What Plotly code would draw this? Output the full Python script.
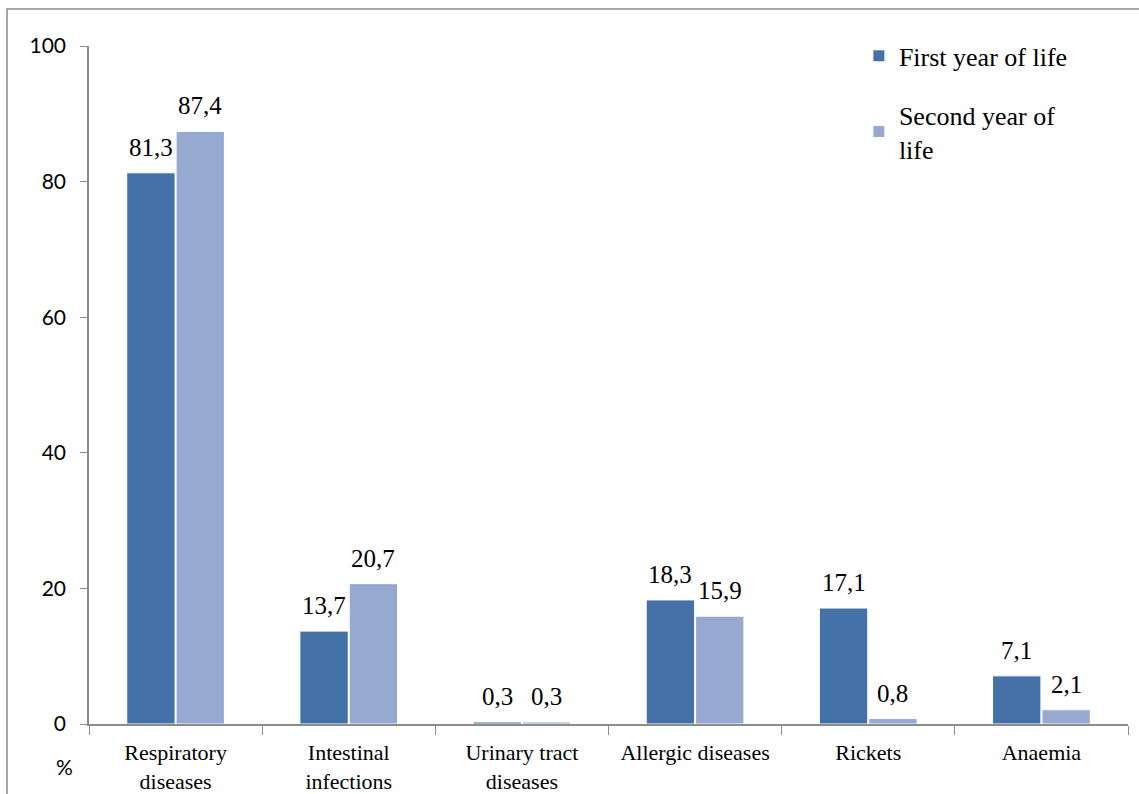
import plotly.graph_objects as go

categories = ["Respiratory<br>diseases", "Intestinal<br>infections", "Urinary tract<br>diseases",
              "Allergic diseases", "Rickets", "Anaemia"]
first_year = [81.3, 13.7, 0.3, 18.3, 17.1, 7.1]
second_year = [87.4, 20.7, 0.3, 15.9, 0.8, 2.1]
y_ticks = [0, 20, 40, 60, 80, 100]

serif = "Liberation Serif, Times New Roman, serif"
sans = "Lato, Liberation Sans, Arial, sans-serif"

PLOT_W = 1139 - 89 - 11
BARGAP = 0.43
BARGROUPGAP = 0.02
# horizontal distance from a category centre to the centre of each bar
bar_w = PLOT_W / len(categories) * (1 - BARGAP) / 2
bar_offset = bar_w / 2


def fmt(v):
    return f"{v:.1f}".replace(".", ",")


fig = go.Figure()
fig.add_trace(go.Bar(
    x=categories, y=first_year, name="First year of life",
    marker=dict(color="#4472A8", line=dict(color="white", width=1)),
    legendgroup="a",
))
fig.add_trace(go.Bar(
    x=categories, y=second_year, name="Second year of<br>life",
    marker=dict(color="#95A9D1", line=dict(color="white", width=1)),
    legendgroup="b",
))

# value labels above each bar
annotations = []
for values, shift in ((first_year, -bar_offset), (second_year, bar_offset)):
    for cat, v in zip(categories, values):
        annotations.append(dict(
            x=cat, y=v, xref="x", yref="y", text=fmt(v), showarrow=False,
            xanchor="center", yanchor="bottom", xshift=shift, yshift=10,
            font=dict(family=serif, size=25, color="black"),
        ))

annotations.append(dict(
    text="%", xref="paper", yref="paper", x=-0.0135, y=-0.063,
    xanchor="right", yanchor="middle", showarrow=False,
    font=dict(family=sans, size=21, color="black"),
))

fig.update_layout(
    width=1139, height=794,
    margin=dict(l=89, r=11, t=46, b=70),
    paper_bgcolor="white", plot_bgcolor="white",
    barmode="group", bargap=BARGAP, bargroupgap=BARGROUPGAP,
    showlegend=True,
    legend=dict(x=0.741, y=1.02, xanchor="left", yanchor="top",
                font=dict(family=serif, size=26, color="black"),
                traceorder="grouped", tracegroupgap=22,
                bgcolor="rgba(0,0,0,0)", itemwidth=30),
    xaxis=dict(
        showline=True, linecolor="#8c8c8c", linewidth=1.5,
        ticks="outside", tickson="boundaries", ticklen=9, tickcolor="#8c8c8c",
        ticklabelstandoff=8,
        tickfont=dict(family=serif, size=22, color="black"),
        showgrid=False, fixedrange=True, automargin=False,
    ),
    yaxis=dict(
        range=[0, 100], tickvals=y_ticks,
        showline=True, linecolor="#8c8c8c", linewidth=1.5,
        ticks="outside", ticklen=7, tickcolor="#8c8c8c", ticklabelstandoff=10,
        tickfont=dict(family=sans, size=21, color="black"),
        showgrid=False, zeroline=False, fixedrange=True, automargin=False,
    ),
    annotations=annotations,
    shapes=[dict(
        type="rect", xref="paper", yref="paper",
        x0=-0.0789, x1=1.05, y0=-0.2, y1=1.0546,
        line=dict(color="#8c8c8c", width=1.5), fillcolor="rgba(0,0,0,0)",
        layer="below",
    )],
)

fig.write_html("out.html")
